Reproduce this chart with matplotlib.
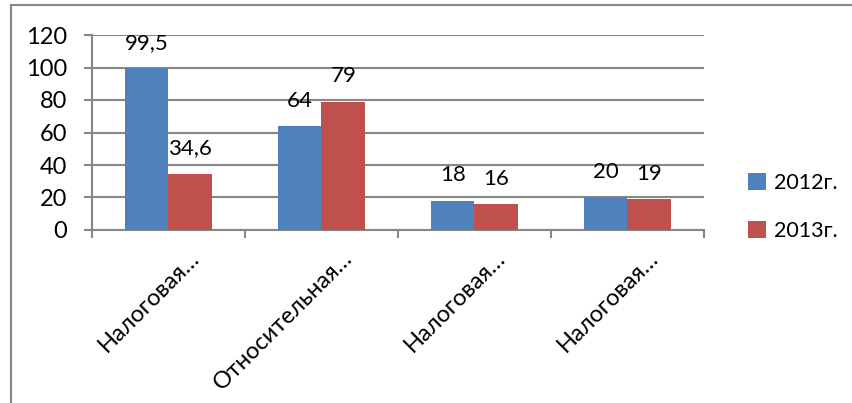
import numpy as np
import matplotlib
matplotlib.use("Agg")
import matplotlib.pyplot as plt
from matplotlib.lines import Line2D
from matplotlib.transforms import ScaledTranslation

# --- Data ---
categories = ["Налоговая…", "Относительная…", "Налоговая…", "Налоговая…"]
series_names = ["2012г.", "2013г."]
values_2012 = [99.5, 64, 18, 20]
values_2013 = [34.6, 79, 16, 19]
y_ticks = [0, 20, 40, 60, 80, 100, 120]

COLORS = ["#4F81BD", "#C0504D"]
GRID = "#878787"


def fmt(v):
    # comma as decimal separator, like the original
    if float(v).is_integer():
        return str(int(v))
    return f"{v:.1f}".replace(".", ",")


def main():
    plt.rcParams["font.family"] = ["Lato", "DejaVu Sans"]

    fig = plt.figure(figsize=(8.53, 4.03), dpi=100)
    ax = fig.add_axes([92 / 853, 1 - 230 / 403, (704 - 92) / 853, (230 - 35) / 403])

    x = np.arange(len(categories))
    width = 0.285
    bars_a = ax.bar(x - width / 2, values_2012, width, color=COLORS[0],
                    label=series_names[0], zorder=3)
    bars_b = ax.bar(x + width / 2, values_2013, width, color=COLORS[1],
                    label=series_names[1], zorder=3)

    for bars in (bars_a, bars_b):
        for bar in bars:
            h = bar.get_height()
            ax.annotate(fmt(h), (bar.get_x() + bar.get_width() / 2, h),
                        xytext=(0, 11), textcoords="offset points",
                        ha="center", va="bottom", fontsize=16, zorder=4)

    ax.set_xlim(-0.5, len(categories) - 0.5)
    ax.set_ylim(0, 120)
    ax.set_yticks(y_ticks)
    ax.set_yticklabels([str(t) for t in y_ticks], fontsize=17)
    ax.yaxis.grid(True, color=GRID, linewidth=1.5, zorder=0)

    # category boundaries get the tick marks
    ax.set_xticks(np.arange(len(categories) + 1) - 0.5)
    ax.set_xticklabels([])
    ax.tick_params(axis="x", length=6, width=1.5, color=GRID)
    ax.tick_params(axis="y", length=6, width=1.5, color=GRID, pad=12)

    # rotated category labels, top-right corner just right of the group centre
    label_tr = ax.get_xaxis_transform() + ScaledTranslation(0.20, -0.17, fig.dpi_scale_trans)
    for xi, name in zip(x, categories):
        ax.text(xi, 0, name, transform=label_tr, rotation=45,
                rotation_mode="anchor", ha="right", va="top", fontsize=17)

    for side in ("top", "right"):
        ax.spines[side].set_visible(False)
    for side in ("left", "bottom"):
        ax.spines[side].set_color(GRID)
        ax.spines[side].set_linewidth(1.5)

    fig.legend(loc="center left", bbox_to_anchor=(729 / 853, 1 - 207 / 403),
               frameon=False, fontsize=15.5, handlelength=0.8, handleheight=0.8,
               handletextpad=0.4, labelspacing=1.3)

    # chart area border (left and top edges visible)
    fig.add_artist(Line2D([11 / 853, 11 / 853], [0, 1 - 5 / 403],
                          color=GRID, linewidth=1.5))
    fig.add_artist(Line2D([11 / 853, 1], [1 - 5 / 403, 1 - 5 / 403],
                          color=GRID, linewidth=1.5))

    fig.savefig("out.png", dpi=100)


if __name__ == "__main__":
    main()
